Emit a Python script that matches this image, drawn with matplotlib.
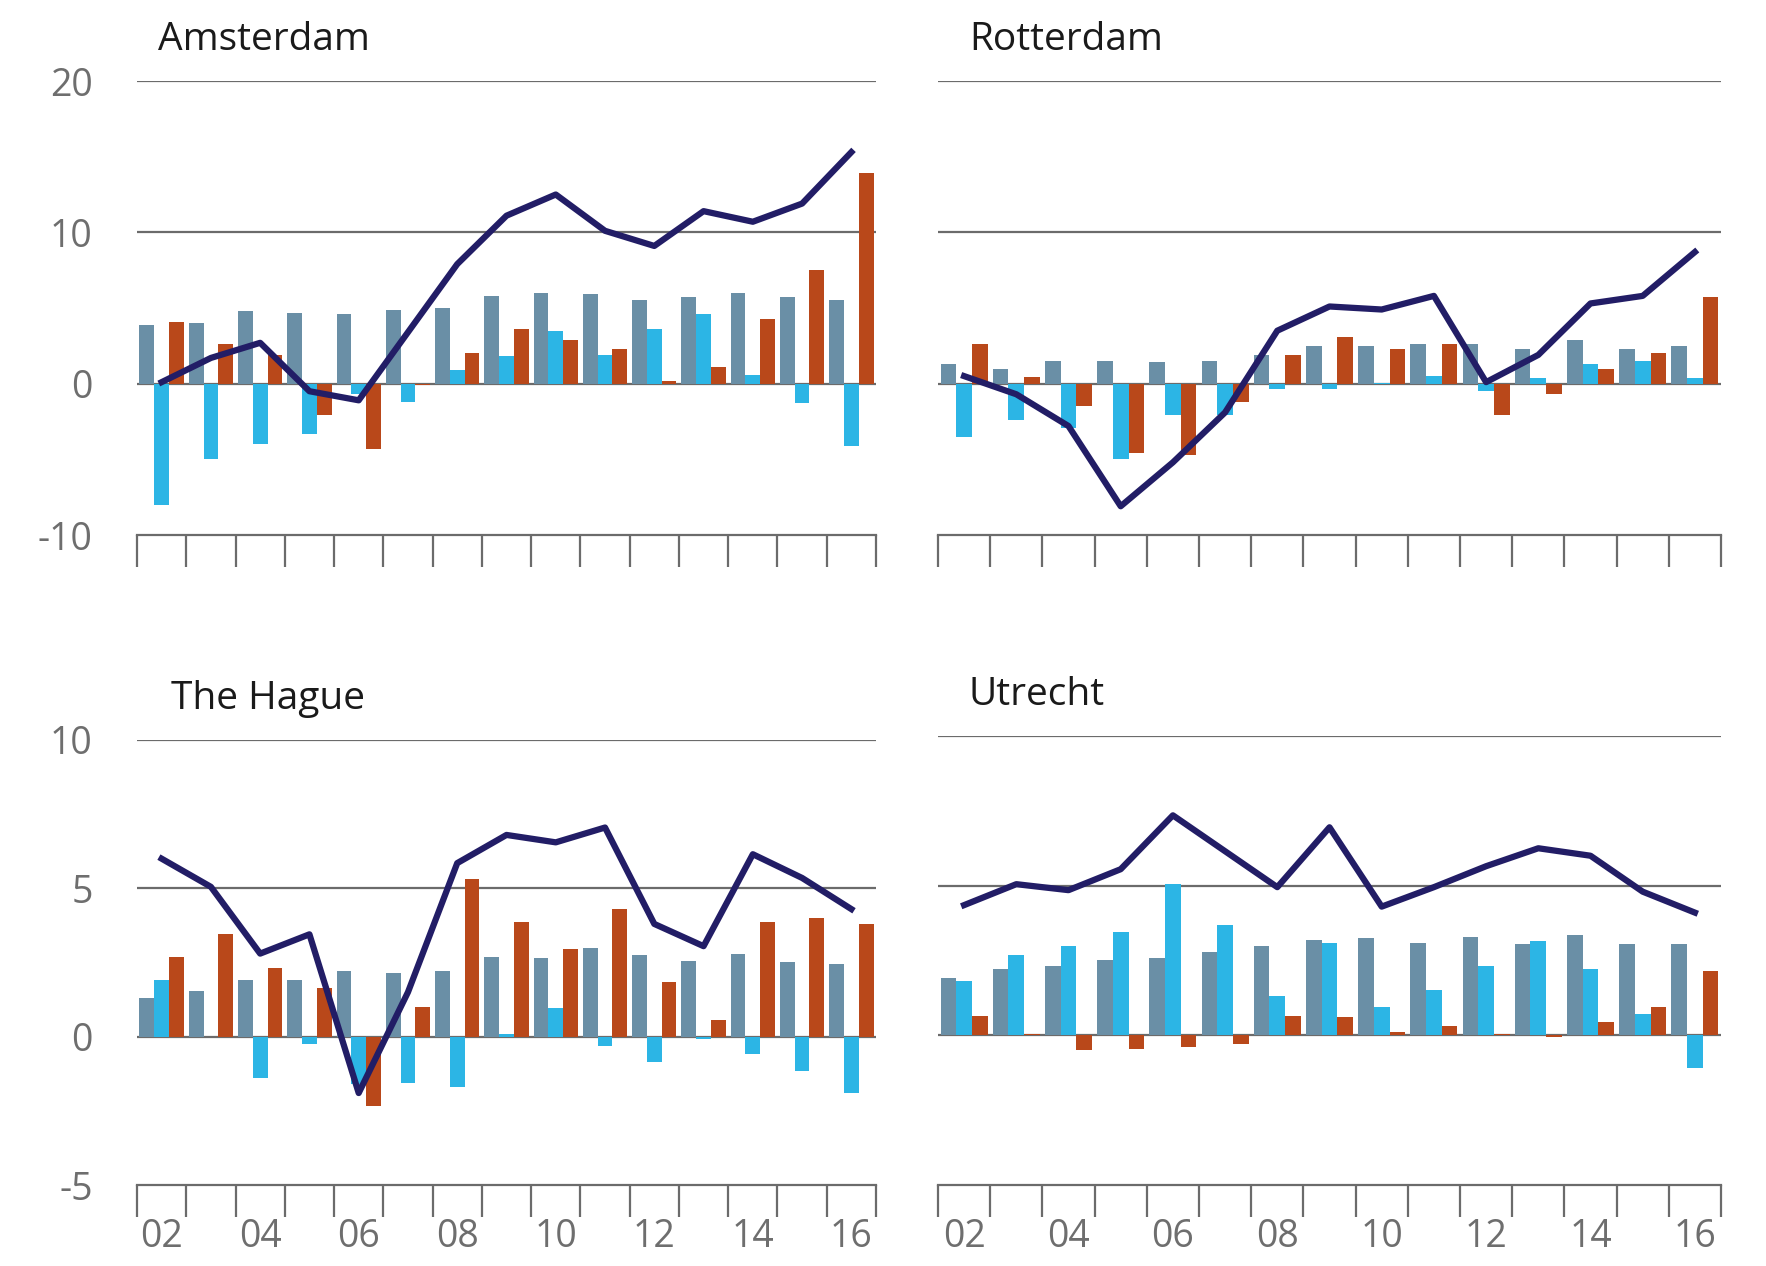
import numpy as np
import matplotlib.pyplot as plt

years = ['02', '03', '04', '05', '06', '07', '08', '09', '10', '11', '12', '13', '14', '15', '16']

# Amsterdam
ams_grey = [3.9, 4.0, 4.8, 4.7, 4.6, 4.9, 5.0, 5.8, 6.0, 5.9, 5.5, 5.7, 6.0, 5.7, 5.5]
ams_blue = [-8.0, -5.0, -4.0, -3.3, -0.7, -1.2, 0.9, 1.8, 3.5, 1.9, 3.6, 4.6, 0.6, -1.3, -4.1]
ams_orange = [4.1, 2.6, 1.9, -2.1, -4.3, -0.1, 2.0, 3.6, 2.9, 2.3, 0.2, 1.1, 4.3, 7.5, 13.9]
ams_line = [0.1, 1.7, 2.7, -0.5, -1.1, 3.4, 7.9, 11.1, 12.5, 10.1, 9.1, 11.4, 10.7, 11.9, 15.3]

# Rotterdam
rot_grey = [1.3, 1.0, 1.5, 1.5, 1.4, 1.5, 1.9, 2.5, 2.5, 2.6, 2.6, 2.3, 2.9, 2.3, 2.5]
rot_blue = [-3.5, -2.4, -2.9, -5.0, -2.1, -2.1, -0.35, -0.35, 0.05, 0.5, -0.5, 0.35, 1.3, 1.5, 0.35]
rot_orange = [2.6, 0.45, -1.5, -4.6, -4.7, -1.2, 1.9, 3.1, 2.3, 2.6, -2.1, -0.7, 1.0, 2.0, 5.7]
rot_line = [0.5, -0.7, -2.8, -8.1, -5.2, -1.9, 3.5, 5.1, 4.9, 5.8, 0.1, 1.9, 5.3, 5.8, 8.7]

# The Hague
hag_grey = [1.3, 1.55, 1.9, 1.9, 2.2, 2.15, 2.2, 2.7, 2.65, 3.0, 2.75, 2.55, 2.8, 2.5, 2.45]
hag_blue = [1.9, 0.0, -1.4, -0.25, -1.6, -1.55, -1.7, 0.1, 0.95, -0.3, -0.85, -0.07, -0.6, -1.15, -1.9]
hag_orange = [2.7, 3.45, 2.3, 1.65, -2.35, 1.0, 5.3, 3.85, 2.95, 4.3, 1.85, 0.55, 3.85, 4.0, 3.8]
hag_line = [6.0, 5.05, 2.8, 3.45, -1.9, 1.5, 5.85, 6.8, 6.55, 7.05, 3.8, 3.05, 6.15, 5.35, 4.3]

# Utrecht
utr_grey = [1.9, 2.2, 2.3, 2.5, 2.6, 2.8, 3.0, 3.2, 3.25, 3.1, 3.3, 3.05, 3.35, 3.05, 3.05]
utr_blue = [1.8, 2.7, 3.0, 3.45, 5.05, 3.7, 1.3, 3.1, 0.95, 1.5, 2.3, 3.15, 2.2, 0.7, -1.1]
utr_orange = [0.65, 0.04, -0.5, -0.45, -0.4, -0.3, 0.65, 0.6, 0.1, 0.3, 0.05, -0.04, 0.45, 0.95, 2.15]
utr_line = [4.35, 5.05, 4.85, 5.55, 7.35, 6.15, 4.95, 6.95, 4.3, 4.95, 5.65, 6.25, 6.0, 4.8, 4.1]

C_GREY = '#6a8fa6'
C_BLUE = '#2cb5e5'
C_ORANGE = '#b9481a'
C_LINE = '#221d66'
C_AXIS = '#6b6b6b'
C_TEXT = '#6e6e6e'

plt.rcParams['font.family'] = ['Open Sans', 'DejaVu Sans']

W, H = 1766, 1266
fig = plt.figure(figsize=(W / 100, H / 100), dpi=100)

# name, series..., y range, gridlines, y labels?, x labels?, axes box (px), title x (px)
panels = [
    ('Amsterdam', ams_grey, ams_blue, ams_orange, ams_line, (-10, 20), [20, 10, 0], True, False,
     (137, 876, 81, 535), 158),
    ('Rotterdam', rot_grey, rot_blue, rot_orange, rot_line, (-10, 20), [20, 10, 0], False, False,
     (938, 1721, 81, 535), 969),
    ('The Hague', hag_grey, hag_blue, hag_orange, hag_line, (-5, 10), [10, 5, 0], True, True,
     (137, 876, 740, 1185), 171),
    ('Utrecht', utr_grey, utr_blue, utr_orange, utr_line, (-5, 10), [10, 5, 0], False, True,
     (938, 1721, 736, 1185), 969),
]

x = np.arange(len(years))
for title, grey, blue, orange, line, ylim, grid, ylabels, xlabels, (l, r, t, b), tx in panels:
    ax = fig.add_axes([l / W, 1 - b / H, (r - l) / W, (b - t) / H])
    ax.set_xlim(-0.5, len(years) - 0.5)
    ax.set_ylim(*ylim)
    for g in grid:
        ax.axhline(g, color=C_AXIS, lw=1.6, zorder=1)
    ax.bar(x - 0.3, grey, width=0.3, color=C_GREY, zorder=2)
    ax.bar(x, blue, width=0.3, color=C_BLUE, zorder=2)
    ax.bar(x + 0.3, orange, width=0.3, color=C_ORANGE, zorder=2)
    ax.plot(x, line, color=C_LINE, lw=4.5, zorder=3)

    for s in ['top', 'right', 'left']:
        ax.spines[s].set_visible(False)
    ax.spines['bottom'].set_color(C_AXIS)
    ax.spines['bottom'].set_linewidth(1.6)

    ax.set_xticks(np.arange(-0.5, len(years), 1.0), minor=True)
    ax.tick_params(axis='x', which='minor', length=23, width=1.6, color=C_AXIS, direction='out')
    ax.set_xticks(x[::2])
    ax.set_xticklabels(years[::2] if xlabels else [])
    ax.tick_params(axis='x', which='major', length=0, pad=24, labelsize=27, labelcolor=C_TEXT)

    yt = [ylim[0]] + grid[::-1]
    ax.set_yticks(yt)
    ax.set_yticklabels([str(v) for v in yt] if ylabels else [])
    ax.tick_params(axis='y', length=0, pad=32, labelsize=27, labelcolor=C_TEXT)

    fig.text(tx / W, 1 - (t - 22) / H, title, fontsize=28, color='#1a1a1a',
             ha='left', va='bottom')

fig.savefig('out.png', dpi=100)
